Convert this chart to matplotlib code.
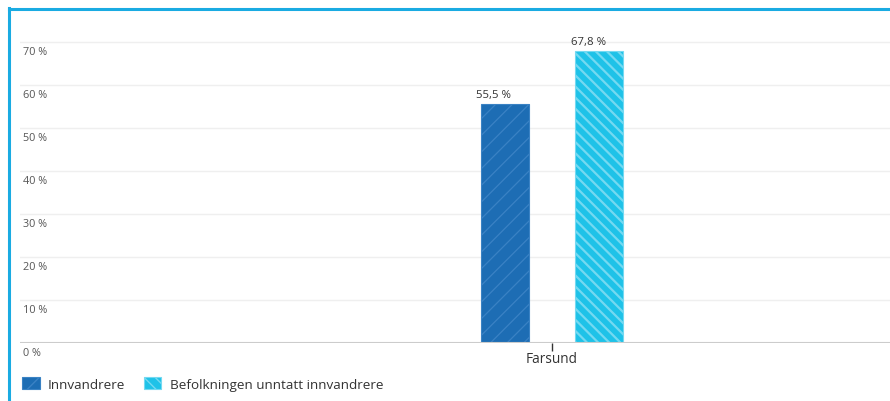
import matplotlib
matplotlib.use("Agg")
import matplotlib.pyplot as plt
from matplotlib.patches import Patch
from matplotlib.lines import Line2D

categories = ["Farsund"]
series_names = ["Innvandrere", "Befolkningen unntatt innvandrere"]
innvandrere = [55.5]
befolkningen = [67.8]
y_ticks = [0, 10, 20, 30, 40, 50, 60, 70]
y_tick_labels = ["0 %", "10 %", "20 %", "30 %", "40 %", "50 %", "60 %", "70 %"]

plt.rcParams["font.family"] = ["Open Sans", "DejaVu Sans"]

W, H = 890, 402
fig = plt.figure(figsize=(W / 100, H / 100), dpi=100)
fig.patch.set_facecolor("white")

def fx(px):
    return px / W

def fy(py):
    return 1 - py / H

# axes area: x 20..890 px, 0 % at ~344 px
ax = fig.add_axes([fx(20), fy(344), fx(890) - fx(20), fy(21.5) - fy(344)])
ax.set_ylim(0, 75)
bw = 0.25
ax.set_xlim(-2.77, 1.76)

dark = "#1d6db4"
dark_hatch = "#3a82c4"
cyan = "#1ec2e8"
cyan_hatch = "#74d9f1"

x0 = 0
with plt.rc_context({"hatch.linewidth": 0.9}):
    ax.bar([x0 - 0.247], innvandrere, width=bw, color=dark, edgecolor=dark_hatch,
           hatch="//", linewidth=0.8, zorder=3)
with plt.rc_context({"hatch.linewidth": 1.6}):
    ax.bar([x0 + 0.247], befolkningen, width=bw, color=cyan, edgecolor=cyan_hatch,
           hatch="\\\\\\", linewidth=0.8, zorder=3)

for xv, v in [(x0 - 0.247, innvandrere[0]), (x0 + 0.247, befolkningen[0])]:
    ax.annotate(f"{v:.1f} %".replace(".", ","), xy=(xv, v), xycoords="data",
                xytext=(-8, 3), textcoords="offset points",
                ha="center", va="bottom", fontsize=8.2, color="#333333")

# grid
for t in y_ticks[1:]:
    ax.axhline(t, color="#efefef", lw=1, zorder=1)
ax.axhline(0, color="#cccccc", lw=1.5, zorder=4)

for s in ax.spines.values():
    s.set_visible(False)
ax.set_yticks([])
ax.set_xticks([x0])
ax.set_xticklabels(categories, fontsize=9.8, color="#333333")
ax.tick_params(axis="x", length=6, width=1, color="#333333", pad=0)

for t, lab in zip(y_ticks, y_tick_labels):
    ax.annotate(lab, xy=(0, t), xycoords=("axes fraction", "data"),
                xytext=(2, -3), textcoords="offset points",
                ha="left", va="top", fontsize=7.8, color="#555555")

# legend
handles = [
    Patch(facecolor=dark, edgecolor=dark_hatch, hatch="//", linewidth=0.8),
    Patch(facecolor=cyan, edgecolor=cyan_hatch, hatch="\\\\\\", linewidth=0.8),
]
fig.legend(handles, series_names, loc="lower left",
           bbox_to_anchor=(fx(10), fy(404)), ncol=2, frameon=False,
           fontsize=9.7, handlelength=1.3, handleheight=1.0,
           handletextpad=0.6, columnspacing=1.4, labelcolor="#333333")

# frame border lines
fig.add_artist(Line2D([fx(9), fx(9)], [0, fy(9)], color="#1aabe2", lw=2.2))
fig.add_artist(Line2D([fx(9), 1], [fy(9.5), fy(9.5)], color="#1aabe2", lw=2.2))

fig.savefig("out.png", dpi=100, facecolor="white")
